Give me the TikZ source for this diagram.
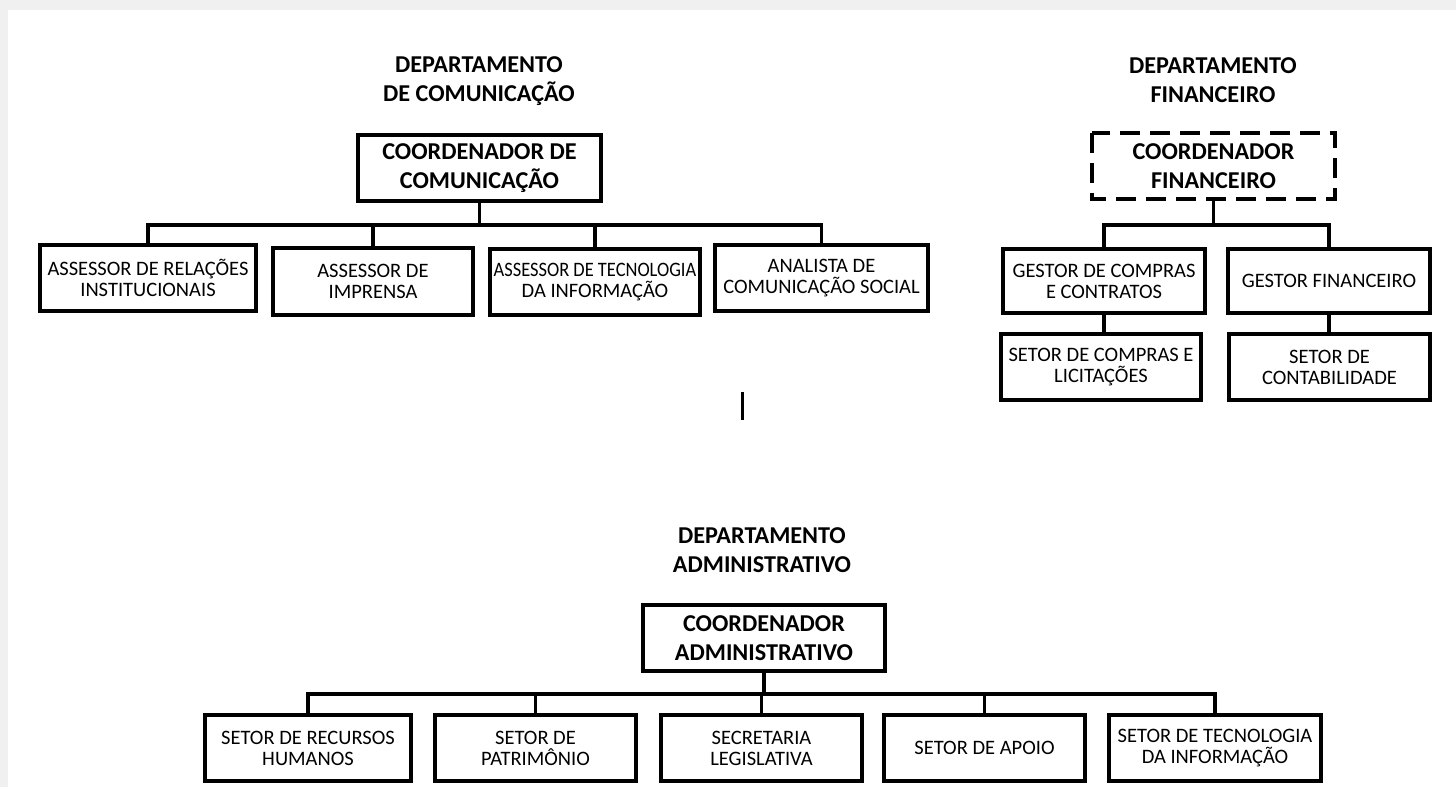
\documentclass[tikz,border=0pt]{standalone}
\usepackage{fontspec}
\setmainfont{Carlito}
\usepackage{graphicx}
\newcommand{\boxfont}{\fontsize{20.5}{21}\selectfont}
\newcommand{\titfont}{\fontsize{24.2}{29}\selectfont\bfseries}
\begin{document}
\begin{tikzpicture}[x=1pt,y=-1pt,
  box/.style={draw, line width=4pt, inner sep=0pt, outer sep=0pt, align=center, font=\boxfont, fill=white},
  cbox/.style={box, font=\titfont, minimum width=243pt, minimum height=66pt},
  sbox/.style={box, minimum height=66pt},
  ttl/.style={inner sep=0pt, align=center, font=\titfont},
  conn/.style={line width=3.5pt, line join=miter}]
% background frame
\fill[black!6] (0,0) rectangle (1456,787);
\fill[white] (8,10) rectangle (1456,787);
\useasboundingbox (0,0) rectangle (1456,787);

% ---------- Departamento de Comunicacao ----------
\node[ttl] (tcom) at (479,81) {DEPARTAMENTO\\DE COMUNICAÇÃO};
\node[cbox] (cc) at (479.5,168) {COORDENADOR DE\\COMUNICAÇÃO};
\node[sbox, minimum width=216pt] (a1) at (148,278) {ASSESSOR DE RELAÇÕES\\INSTITUCIONAIS};
\node[sbox, minimum width=200pt, minimum height=67pt] (a2) at (373,281.5) {ASSESSOR DE\\IMPRENSA};
\node[sbox, minimum width=210pt] (a3) at (595,282) {\scalebox{0.9}[1]{ASSESSOR DE TECNOLOGIA}\\DA INFORMAÇÃO};
\node[sbox, minimum width=213pt] (a4) at (821.5,278) {ANALISTA DE\\COMUNICAÇÃO SOCIAL};
\coordinate (cbar) at (481,225);
\draw[conn] (cc.south) -- (cc.south |- cbar);
\draw[conn] (a1.north) |- (a4.north |- cbar) -- (a4.north);
\draw[conn] (a2.north) -- (a2.north |- cbar);
\draw[conn] (a3.north) -- (a3.north |- cbar);

% ---------- Departamento Financeiro ----------
\node[ttl] (tfin) at (1213,80) {DEPARTAMENTO\\FINANCEIRO};
\node[cbox, draw=none] (cf) at (1213.5,166) {COORDENADOR\\FINANCEIRO};
\draw[line width=4pt, dash pattern=on 20pt off 10pt] (cf.north west) rectangle (cf.south east);
\node[sbox, minimum width=202pt, minimum height=64pt] (gc) at (1104,281) {GESTOR DE COMPRAS\\E CONTRATOS};
\node[sbox, minimum width=202pt, minimum height=64pt] (gf) at (1329,281) {GESTOR FINANCEIRO};
\node[sbox, minimum width=200pt] (sc) at (1101,367) {SETOR DE COMPRAS E\\LICITAÇÕES};
\node[sbox, minimum width=201pt] (sct) at (1329.5,367) {SETOR DE\\CONTABILIDADE};
\coordinate (fbar) at (1213,225);
\draw[conn] (cf.south) -- (cf.south |- fbar);
\draw[conn] (gc.north) |- (gf.north |- fbar) -- (gf.north);
\draw[conn] (gc.south) -- (sc.north -| gc.south);
\draw[conn] (gf.south) -- (sct.north -| gf.south);

% stray mark
\coordinate (m1) at (742,392);
\coordinate (m2) at (742,420);
\draw[line width=3pt] (m1) -- (m2);

% ---------- Departamento Administrativo ----------
\node[ttl] (tadm) at (762,550) {DEPARTAMENTO\\ADMINISTRATIVO};
\node[cbox, minimum width=242pt] (ca) at (764,638) {COORDENADOR\\ADMINISTRATIVO};
\node[sbox, minimum width=206pt] (s1) at (308,748) {SETOR DE RECURSOS\\HUMANOS};
\node[sbox, minimum width=201pt] (s2) at (535.5,748) {SETOR DE\\PATRIMÔNIO};
\node[sbox, minimum width=201pt] (s3) at (761.5,748) {SECRETARIA\\LEGISLATIVA};
\node[sbox, minimum width=201pt] (s4) at (984.5,748) {SETOR DE APOIO};
\node[sbox, minimum width=212pt] (s5) at (1215,748) {SETOR DE TECNOLOGIA\\DA INFORMAÇÃO};
\coordinate (abar) at (764,694);
\draw[conn] (ca.south) -- (ca.south |- abar);
\draw[conn] (s1.north) |- (s5.north |- abar) -- (s5.north);
\draw[conn] (s2.north) -- (s2.north |- abar);
\draw[conn] (s3.north) -- (s3.north |- abar);
\draw[conn] (s4.north) -- (s4.north |- abar);
\end{tikzpicture}
\end{document}
